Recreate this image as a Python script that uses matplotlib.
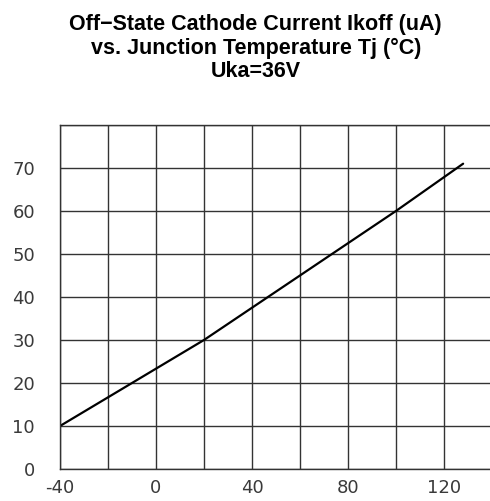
import matplotlib
matplotlib.use("Agg")
import matplotlib.pyplot as plt

# Tj (degC) vs Ikoff (uA)
temp = [-40, 20, 100, 128]
ikoff = [10, 30, 60, 71]

x_ticks = [-40, 0, 40, 80, 120]
y_ticks = [0, 10, 20, 30, 40, 50, 60, 70]

fig = plt.figure(figsize=(4.9, 5.01), dpi=100)
ax = fig.add_axes([60 / 490, 32 / 501, 1 - 60 / 490, 344 / 501])

ax.plot(temp, ikoff, color="black", lw=1.6, solid_capstyle="round")

ax.set_xlim(-40, 139.2)
ax.set_ylim(0, 80)
ax.set_xticks(range(-40, 140, 20), minor=False)
ax.set_xticklabels([str(t) if t in x_ticks else "" for t in range(-40, 140, 20)])
ax.set_yticks(range(0, 81, 10))
ax.set_yticklabels([str(v) if v in y_ticks else "" for v in range(0, 81, 10)])
ax.grid(True, color="#333333", lw=1.0)
ax.tick_params(length=0, labelsize=13, labelcolor="#3a3a3a")
ax.tick_params(axis="x", pad=7)
ax.tick_params(axis="y", pad=18)
for s in ["left", "bottom", "top"]:
    ax.spines[s].set_color("#333333")
    ax.spines[s].set_linewidth(1.0)
ax.spines["right"].set_visible(False)

fig.text(0.522, 0.972, "Off\u2212State Cathode Current Ikoff (uA)\nvs. Junction Temperature Tj (\u00b0C)\nUka=36V",
         ha="center", va="top", fontsize=15.5, fontweight="bold",
         family="Liberation Sans", linespacing=1.15)

fig.savefig("out.png", dpi=100)
